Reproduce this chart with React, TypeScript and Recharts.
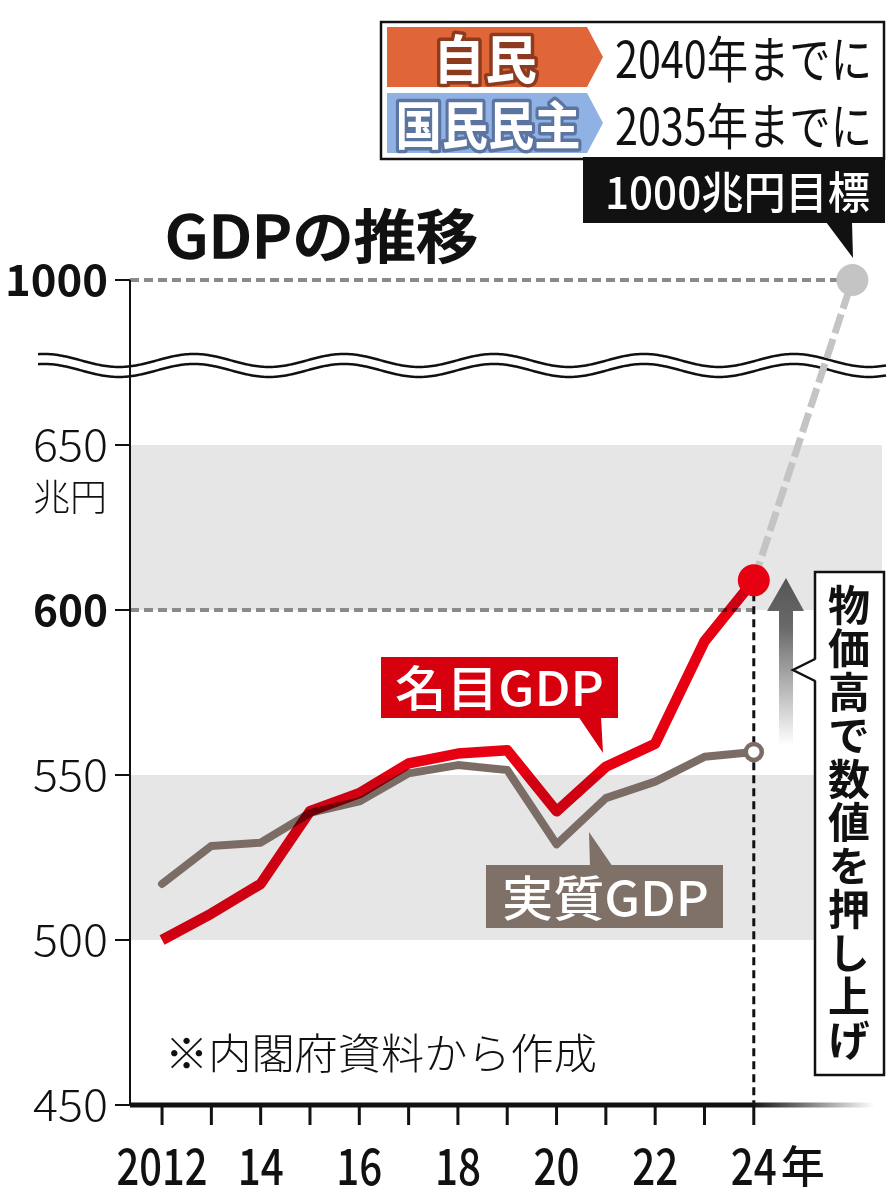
import React from "react";
import {
  LineChart,
  Line,
  XAxis,
  YAxis,
  ReferenceArea,
  ReferenceLine,
} from "recharts";

// values (trillion yen)
const years = [2012, 2013, 2014, 2015, 2016, 2017, 2018, 2019, 2020, 2021, 2022, 2023, 2024];
const nominalGdp = [500, 508, 517, 539, 544.5, 553.5, 556.5, 557.5, 539, 552.5, 559.5, 590.5, 609];
const realGdp = [517, 528.5, 529.5, 538.5, 542, 550.5, 553, 551.5, 529, 543, 548, 555.5, 557];
const targetYear = 2026;
const targetValue = 1000;
const yTickValues = [450, 500, 550, 600, 650, 1000];
const boldTicks = [600, 1000];
const shadedBands = [
  [500, 550],
  [600, 650],
];

// axis break: everything above 650 is squeezed so 1000 sits one step above 650
const BREAK_AT = 650;
const toAxis = (v: number) => (v <= BREAK_AT ? v : BREAK_AT + ((v - BREAK_AT) * 50) / (targetValue - BREAK_AT));

const lastIdx = years.length - 1;
const rows: any[] = years.map((year, i) => ({
  year,
  nominal: nominalGdp[i],
  real: realGdp[i],
  target: i === lastIdx ? nominalGdp[i] : undefined,
}));
rows.push({ year: targetYear, target: toAxis(targetValue) });

const FONT = "'Noto Sans CJK JP', 'Noto Sans', sans-serif";
const RED = "#e60012";
const BROWN = "#7b6d65";
const TARGET_GRAY = "#c4c4c4";

const XTick = (props: any) => {
  const { x, payload } = props;
  const v = payload.value as number;
  if (v % 2 !== 0) return <g />;
  const label = v === 2012 ? "2012" : String(v).slice(2);
  return (
    <g>
      <text
        x={x}
        y={1185}
        textAnchor="middle"
        fontFamily={FONT}
        fontSize={50}
        fontWeight={500}
        fill="#111"
        textLength={label.length === 4 ? 91 : 46}
        lengthAdjust="spacingAndGlyphs"
      >
        {label}
      </text>
      {v === years[lastIdx] && (
        <text x={x + 27} y={1183} fontFamily={FONT} fontSize={44} fontWeight={500} fill="#111">
          年
        </text>
      )}
    </g>
  );
};

const YTick = (props: any) => {
  const { y, payload } = props;
  const real = yTickValues.find((t) => toAxis(t) === payload.value) ?? payload.value;
  const bold = boldTicks.includes(real);
  return (
    <g>
      <text
        x={108}
        y={y + 16}
        textAnchor="end"
        fontFamily={FONT}
        fontSize={bold ? 43 : 44}
        fontWeight={bold ? 700 : 300}
        fill="#111"
        textLength={real >= 1000 ? 103 : 75}
        lengthAdjust="spacingAndGlyphs"
      >
        {real}
      </text>
      {real === 650 && (
        <text x={107} y={511} textAnchor="end" fontFamily={FONT} fontSize={37} fontWeight={300} fill="#111">
          兆円
        </text>
      )}
    </g>
  );
};

const NominalDot = (p: any) =>
  p.index === lastIdx ? <circle key="nd" cx={p.cx} cy={p.cy} r={16} fill={RED} /> : <g key={`n${p.index}`} />;

const RealDot = (p: any) =>
  p.index === lastIdx ? (
    <circle key="rd" cx={p.cx} cy={p.cy} r={8} fill="#fff" stroke={BROWN} strokeWidth={4.5} />
  ) : (
    <g key={`r${p.index}`} />
  );

const TargetDot = (p: any) =>
  p.payload && p.payload.year === targetYear ? (
    <circle key="td" cx={p.cx} cy={p.cy} r={16} fill={TARGET_GRAY} />
  ) : (
    <g key={`t${p.index}`} />
  );

const wavePath = (cy: number) => {
  let d = "";
  for (let x = 38; x <= 886; x += 2) {
    const y = cy - 6.5 * Math.cos((2 * Math.PI * (x - 194)) / 150);
    d += `${d ? "L" : "M"}${x},${y.toFixed(2)}`;
  }
  return d;
};

export default function App() {
  return (
    <div style={{ position: "absolute", left: 0, top: 0, width: 892, height: 1200, background: "#fff" }}>
      <style>{`.nominal-line .recharts-line-curve{mix-blend-mode:multiply}`}</style>

      {/* axis break waves, under the chart */}
      <svg width={892} height={1200} style={{ position: "absolute", left: 0, top: 0 }}>
        <path d={wavePath(360.5)} fill="none" stroke="#111" strokeWidth={2.5} />
        <path d={wavePath(370.5)} fill="none" stroke="#111" strokeWidth={2.5} />
      </svg>

      <div style={{ position: "absolute", left: 0, top: 0 }}>
        <LineChart width={892} height={1200} data={rows} margin={{ top: 280, right: 10, bottom: 0, left: 0 }}>
          <defs>
            <linearGradient id="xAxisFade" gradientUnits="userSpaceOnUse" x1={130} y1={0} x2={882} y2={0}>
              <stop offset="0.825" stopColor="#111" />
              <stop offset="0.99" stopColor="#fff" />
            </linearGradient>
          </defs>
          {shadedBands.map(([a, b]) => (
            <ReferenceArea key={a} y1={a} y2={b} fill="#e6e6e6" fillOpacity={1} stroke="none" ifOverflow="visible" />
          ))}
          <XAxis
            dataKey="year"
            type="number"
            domain={[2011.35, 2026.6]}
            ticks={years}
            interval={0}
            height={95}
            tickSize={20}
            axisLine={{ stroke: "url(#xAxisFade)", strokeWidth: 5 }}
            tickLine={{ stroke: "#111", strokeWidth: 3 }}
            tick={<XTick />}
          />
          <YAxis
            type="number"
            domain={[450, 700]}
            ticks={yTickValues.map(toAxis)}
            interval={0}
            width={130}
            tickSize={15}
            axisLine={{ stroke: "#111", strokeWidth: 2 }}
            tickLine={{ stroke: "#111", strokeWidth: 2 }}
            tick={<YTick />}
          />
          <ReferenceLine
            segment={[
              { x: 2011.35, y: toAxis(targetValue) },
              { x: targetYear, y: toAxis(targetValue) },
            ]}
            stroke="#8a8a8a"
            strokeWidth={4}
            strokeDasharray="9 5"
            ifOverflow="visible"
          />
          <ReferenceLine
            segment={[
              { x: 2011.35, y: 600 },
              { x: years[lastIdx], y: 600 },
            ]}
            stroke="#8a8a8a"
            strokeWidth={4}
            strokeDasharray="9 5"
            ifOverflow="visible"
          />
          <ReferenceLine
            segment={[
              { x: years[lastIdx], y: nominalGdp[lastIdx] },
              { x: years[lastIdx], y: 450 },
            ]}
            stroke="#111"
            strokeWidth={3}
            strokeDasharray="8 5"
            ifOverflow="visible"
          />
          <Line
            dataKey="target"
            stroke={TARGET_GRAY}
            strokeWidth={7}
            strokeDasharray="20 6"
            dot={TargetDot}
            activeDot={false}
            isAnimationActive={false}
          />
          <Line
            dataKey="real"
            stroke={BROWN}
            strokeWidth={8}
            strokeLinecap="round"
            strokeLinejoin="round"
            dot={RealDot}
            activeDot={false}
            isAnimationActive={false}
          />
          <Line
            className="nominal-line"
            dataKey="nominal"
            stroke={RED}
            strokeWidth={10.5}
            strokeLinejoin="round"
            dot={NominalDot}
            activeDot={false}
            isAnimationActive={false}
          />
        </LineChart>
      </div>

      {/* annotations */}
      <svg width={892} height={1200} style={{ position: "absolute", left: 0, top: 0, pointerEvents: "none" }}>
        <defs>
          <linearGradient id="arrowFade" x1="0" y1="0" x2="0" y2="1">
            <stop offset="0" stopColor="#555" />
            <stop offset="0.3" stopColor="#6a6a6a" />
            <stop offset="1" stopColor="#fff" />
          </linearGradient>
        </defs>

        {/* title */}
        <text x={165} y={258} fontFamily={FONT} fontSize={58} fontWeight={500} fill="#111" stroke="#111" strokeWidth={1.4} textLength={313} lengthAdjust="spacingAndGlyphs">
          GDPの推移
        </text>

        {/* party legend */}
        <rect x={381} y={22} width={503} height={137} fill="#fff" stroke="#111" strokeWidth={2.5} />
        <polygon points="387,27 587,27 603,57 587,87 387,87" fill="#e0663a" />
        <text x={485} y={79} textAnchor="middle" fontFamily={FONT} fontSize={52} fontWeight={700} fill="#fff" stroke="#8c3b1f" strokeWidth={7} paintOrder="stroke" strokeLinejoin="round">
          自民
        </text>
        <polygon points="387,93 587,93 603,123 587,153 387,153" fill="#8fb1e3" />
        <text x={488} y={145} textAnchor="middle" fontFamily={FONT} fontSize={52} fontWeight={700} fill="#fff" stroke="#5b74a0" strokeWidth={7} paintOrder="stroke" strokeLinejoin="round" textLength={185} lengthAdjust="spacingAndGlyphs">
          国民民主
        </text>
        <text x={615} y={78} fontFamily={FONT} fontSize={50} fontWeight={400} fill="#111" textLength={257} lengthAdjust="spacingAndGlyphs">
          2040年までに
        </text>
        <text x={615} y={145} fontFamily={FONT} fontSize={50} fontWeight={400} fill="#111" textLength={257} lengthAdjust="spacingAndGlyphs">
          2035年までに
        </text>

        {/* target callout */}
        <rect x={583} y={157} width={302} height={66} fill="#111" />
        <polygon points="826,222 852,222 853,258" fill="#111" />
        <text x={605} y={209} fontFamily={FONT} fontSize={44} fontWeight={500} fill="#fff" textLength={265} lengthAdjust="spacingAndGlyphs">
          1000兆円目標
        </text>

        {/* series labels */}
        <rect x={381} y={657} width={237} height={61} fill="#d7000f" />
        <polygon points="578,716 601,716 603,753" fill="#d7000f" />
        <text x={395} y={706} fontFamily={FONT} fontSize={48} fontWeight={500} fill="#fff" textLength={209} lengthAdjust="spacingAndGlyphs">
          名目GDP
        </text>
        <rect x={486} y={865} width={237} height={63} fill="#7f7068" />
        <polygon points="590,867 613,867 589,832" fill="#7f7068" />
        <text x={502} y={916} fontFamily={FONT} fontSize={48} fontWeight={500} fill="#fff" textLength={207} lengthAdjust="spacingAndGlyphs">
          実質GDP
        </text>

        {/* price rise arrow */}
        <polygon points="786,578 804,611 793,611 793,745 779,745 779,611 767,611" fill="url(#arrowFade)" />

        {/* vertical note */}
        <rect x={815} y={572} width={69} height={503} fill="#fff" stroke="#111" strokeWidth={2.5} />
        <polygon points="817,659 793,670 817,681" fill="#fff" />
        <polyline points="815,659 793,670 815,681" fill="none" stroke="#111" strokeWidth={2.5} strokeLinejoin="miter" />
        <text
          x={849}
          y={584}
          fontFamily={FONT}
          fontSize={42}
          fontWeight={700}
          fill="#111"
          letterSpacing={1.5}
          style={{ writingMode: "vertical-rl" }}
        >
          物価高で数値を押し上げ
        </text>

        {/* source */}
        <text x={165} y={1069} fontFamily={FONT} fontSize={42} fontWeight={300} fill="#111" textLength={432} lengthAdjust="spacingAndGlyphs">
          ※内閣府資料から作成
        </text>
      </svg>
    </div>
  );
}
